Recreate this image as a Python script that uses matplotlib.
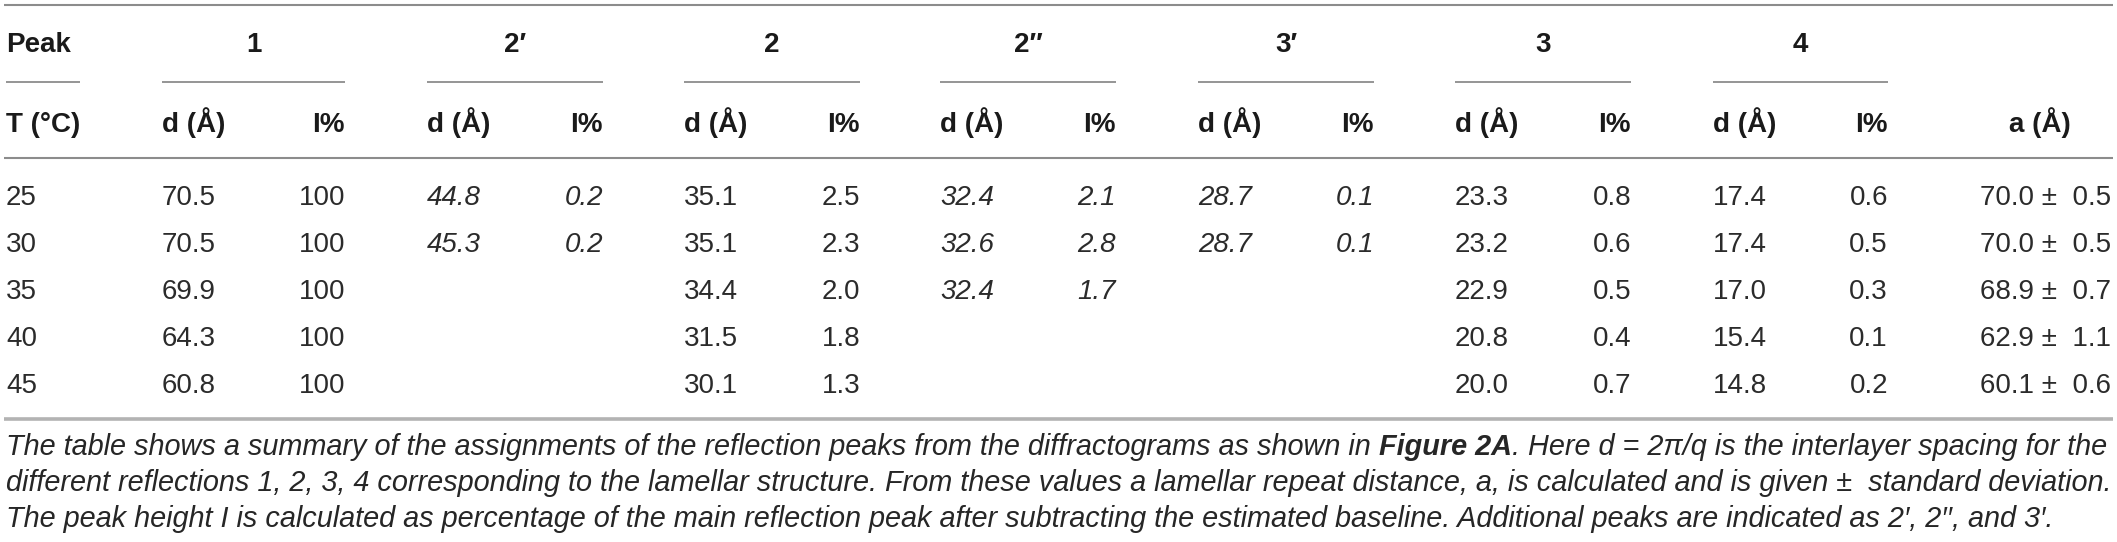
import matplotlib
matplotlib.use("Agg")
import matplotlib.pyplot as plt

plt.rcParams['font.family'] = ['Liberation Sans', 'DejaVu Sans']

# table data
temps = [25, 30, 35, 40, 45]
peak_names = ["1", "2\u2032", "2", "2\u2032\u2032", "3\u2032", "3", "4"]

d_1 = [70.5, 70.5, 69.9, 64.3, 60.8]
i_1 = [100, 100, 100, 100, 100]
d_2p = [44.8, 45.3, None, None, None]
i_2p = [0.2, 0.2, None, None, None]
d_2 = [35.1, 35.1, 34.4, 31.5, 30.1]
i_2 = [2.5, 2.3, 2.0, 1.8, 1.3]
d_2pp = [32.4, 32.6, 32.4, None, None]
i_2pp = [2.1, 2.8, 1.7, None, None]
d_3p = [28.7, 28.7, None, None, None]
i_3p = [0.1, 0.1, None, None, None]
d_3 = [23.3, 23.2, 22.9, 20.8, 20.0]
i_3 = [0.8, 0.6, 0.5, 0.4, 0.7]
d_4 = [17.4, 17.4, 17.0, 15.4, 14.8]
i_4 = [0.6, 0.5, 0.3, 0.1, 0.2]
a_mean = [70.0, 70.0, 68.9, 62.9, 60.1]
a_sd = [0.5, 0.5, 0.7, 1.1, 0.6]

# additional peaks are printed in italics
italic_peaks = ["2\u2032", "2\u2032\u2032", "3\u2032"]

caption_lines = [
    [("The table shows a summary of the assignments of the reflection peaks "
      "from the diffractograms as shown in", "normal"),
     (" Figure 2A", "bold"),
     (". Here d = 2\u03c0/q is the interlayer spacing for the", "normal")],
    [("different reflections 1, 2, 3, 4 corresponding to the lamellar structure. "
      "From these values a lamellar repeat distance, a, is calculated and is "
      "given \u00b1  standard deviation.", "normal")],
    [("The peak height I is calculated as percentage of the main reflection peak "
      "after subtracting the estimated baseline. Additional peaks are indicated "
      "as 2\u2032, 2\u2032\u2032, and 3\u2032.", "normal")],
]


def fmt(v):
    if v is None:
        return ""
    if isinstance(v, int):
        return str(v)
    return f"{v:.1f}"


def draw_segments(ax, renderer, segments, x, y, size, color):
    """Draw text pieces one after another on one baseline."""
    texts = []
    for s, weight in segments:
        t = ax.text(x, y, s, fontsize=size, style="italic", weight=weight,
                    color=color, ha="left", va="baseline")
        bb = t.get_window_extent(renderer)
        x = x + bb.width
        texts.append(t)
    return texts, x


def main():
    W, H = 2117, 542
    fig = plt.figure(figsize=(W / 100, H / 100), dpi=100)
    ax = fig.add_axes([0, 0, 1, 1])
    ax.set_xlim(0, W)
    ax.set_ylim(H, 0)
    ax.axis("off")
    renderer = fig.canvas.get_renderer()

    head_col = "#1a1a1a"
    body_col = "#2b2b2b"
    rule_col = "#8c8c8c"
    fs = 20

    groups = [d_1, i_1, d_2p, i_2p, d_2, i_2, d_2pp, i_2pp,
              d_3p, i_3p, d_3, i_3, d_4, i_4]
    g_left = [162, 427, 684, 940, 1198, 1455, 1713]
    g_right = [345, 603, 860, 1116, 1374, 1631, 1888]
    a_center = 2040
    a_right = 2111

    y_peak, y_sub, y_col = 52, 82, 132
    y_rows = [205, 252, 299, 346, 393]

    # rules
    ax.plot([4, 2113], [5, 5], color=rule_col, lw=1.5, solid_capstyle="butt")
    ax.plot([4, 2113], [158, 158], color=rule_col, lw=1.5, solid_capstyle="butt")
    ax.plot([4, 2113], [419, 419], color="#b3b3b3", lw=2.6, solid_capstyle="butt")
    ax.plot([6, 80], [y_sub, y_sub], color=rule_col, lw=1.3, solid_capstyle="butt")

    # header
    ax.text(6, y_peak, "Peak", fontsize=fs, weight="bold", color=head_col,
            ha="left", va="baseline")
    ax.text(6, y_col, "T (\u00b0C)", fontsize=fs, weight="bold", color=head_col,
            ha="left", va="baseline")
    for k, name in enumerate(peak_names):
        xl, xr = g_left[k], g_right[k]
        ax.text((xl + xr) / 2, y_peak, name, fontsize=fs, weight="bold",
                color=head_col, ha="center", va="baseline")
        ax.plot([xl, xr], [y_sub, y_sub], color=rule_col, lw=1.3,
                solid_capstyle="butt")
        ax.text(xl, y_col, "d (\u00c5)", fontsize=fs, weight="bold",
                color=head_col, ha="left", va="baseline")
        ax.text(xr, y_col, "I%", fontsize=fs, weight="bold",
                color=head_col, ha="right", va="baseline")
    ax.text(a_center, y_col, "a (\u00c5)", fontsize=fs, weight="bold",
            color=head_col, ha="center", va="baseline")

    # body
    for r, t in enumerate(temps):
        y = y_rows[r]
        ax.text(6, y, str(t), fontsize=fs, color=body_col, ha="left",
                va="baseline")
        for k, name in enumerate(peak_names):
            style = "italic" if name in italic_peaks else "normal"
            dv = groups[2 * k][r]
            iv = groups[2 * k + 1][r]
            ax.text(g_left[k], y, fmt(dv), fontsize=fs, style=style,
                    color=body_col, ha="left", va="baseline")
            ax.text(g_right[k], y, fmt(iv), fontsize=fs, style=style,
                    color=body_col, ha="right", va="baseline")
        ax.text(a_right, y, f"{a_mean[r]:.1f} \u00b1  {a_sd[r]:.1f}",
                fontsize=fs, color=body_col, ha="right", va="baseline")

    # caption, sized so the first line spans the table width
    cap_col = "#262626"
    test, end = draw_segments(ax, renderer, caption_lines[0], 6, 455, 16, cap_col)
    for t in test:
        t.remove()
    cap_fs = 16 * (2108 - 6) / (end - 6)
    for line, y in zip(caption_lines, [455, 491, 527]):
        draw_segments(ax, renderer, line, 6, y, cap_fs, cap_col)

    fig.savefig("out.png", dpi=100)


if __name__ == "__main__":
    main()
